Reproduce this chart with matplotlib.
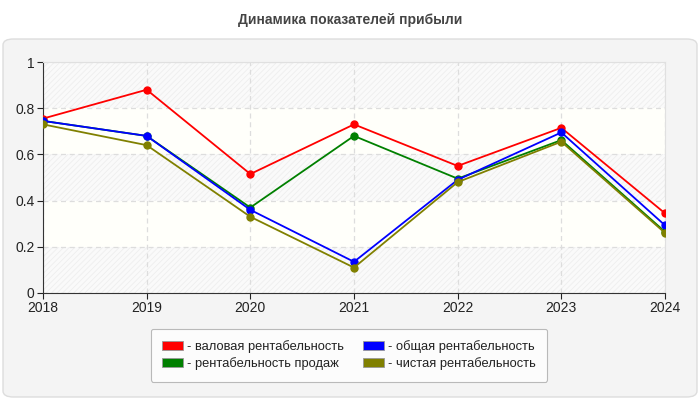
import matplotlib.pyplot as plt
from matplotlib.patches import FancyBboxPatch, Patch

plt.rcParams['font.family'] = ['Liberation Sans', 'DejaVu Sans']
plt.rcParams['hatch.linewidth'] = 0.6

years = [2018, 2019, 2020, 2021, 2022, 2023, 2024]
gross = [0.755, 0.88, 0.515, 0.73, 0.55, 0.715, 0.345]
sales = [0.745, 0.68, 0.37, 0.68, 0.495, 0.662, 0.265]
total = [0.745, 0.68, 0.36, 0.135, 0.49, 0.695, 0.293]
net = [0.73, 0.64, 0.33, 0.11, 0.48, 0.655, 0.26]

labels = ['- валовая рентабельность', '- рентабельность продаж',
          '- общая рентабельность', '- чистая рентабельность']
colors = ['#ff0000', '#008000', '#0000ff', '#808000']

fig = plt.figure(figsize=(7, 4), dpi=100)
bg = FancyBboxPatch((3 / 700, 3 / 400), 694 / 700, 358 / 400,
                    boxstyle='round,pad=0,rounding_size=0.015',
                    transform=fig.transFigure, facecolor='#f4f4f4',
                    edgecolor='#dddddd', lw=1, zorder=-10)
fig.patches.append(bg)
fig.text(0.5, 1 - 20 / 400, 'Динамика показателей прибыли', ha='center', va='center',
         fontsize=10, fontweight='bold', color='#444444')

ax = fig.add_axes([43 / 700, 1 - 293 / 400, 622 / 700, 231 / 400])
ax.set_facecolor('white')
for i in range(5):
    if i % 2 == 0:
        ax.axhspan(i * 0.2, i * 0.2 + 0.2, facecolor='#fafafa', edgecolor='#eeeeee',
                   hatch='//////', lw=0, zorder=0)
    else:
        ax.axhspan(i * 0.2, i * 0.2 + 0.2, facecolor='#fffffa', lw=0, zorder=0)

for vals, c in [(gross, colors[0]), (sales, colors[1]), (total, colors[2]), (net, colors[3])]:
    ax.plot(years, vals, color=c, lw=1.3, marker='o', markersize=5, zorder=3)

ax.set_xlim(2018, 2024)
ax.set_ylim(0, 1)
ax.set_xticks(years)
ax.set_yticks([0, 0.2, 0.4, 0.6, 0.8, 1])
ax.set_yticklabels(['0', '0.2', '0.4', '0.6', '0.8', '1'])
ax.grid(True, color='#dddddd', linestyle=(0, (4, 3)), lw=0.9)
ax.tick_params(labelsize=10, colors='#222222', length=4, width=0.8, pad=2)
for s in ['top', 'right']:
    ax.spines[s].set_color('#e0e0e0')
for s in ['left', 'bottom']:
    ax.spines[s].set_color('#333333')

handles = [Patch(facecolor=c, edgecolor='#999999', lw=0.6) for c in colors]
leg = fig.legend(handles, labels, ncol=2, loc='center', bbox_to_anchor=(349 / 700, 1 - 355 / 400),
                 fontsize=9.3, frameon=True, fancybox=True, edgecolor='#aaaaaa',
                 handlelength=1.6, handleheight=0.7, handletextpad=0.3, columnspacing=1.5,
                 labelspacing=0.3, borderpad=0.9, labelcolor='#222222')
leg.get_frame().set_facecolor('white')
leg.get_frame().set_linewidth(0.8)

fig.savefig('out.png', dpi=100)
